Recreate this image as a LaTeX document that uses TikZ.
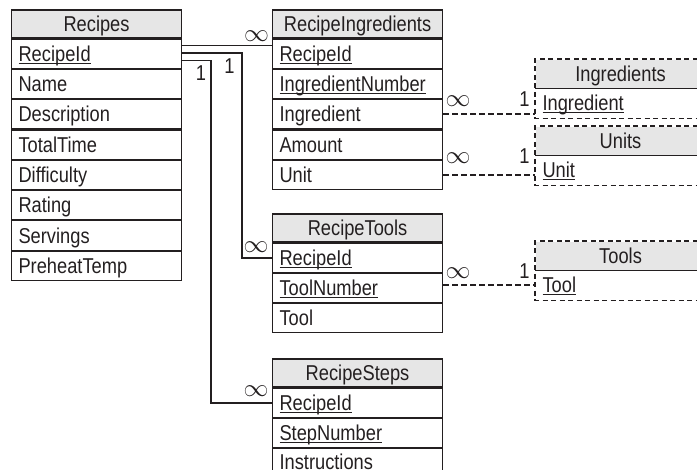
\documentclass[tikz,border=0pt]{standalone}
\usepackage{fontspec}
\setmainfont{Liberation Sans}[FakeStretch=0.85]
\usetikzlibrary{calc}
\definecolor{hdrgray}{HTML}{E6E6E6}
\definecolor{ink}{HTML}{231F20}
\newcommand{\tabfont}{\fontsize{21.5}{24}\selectfont}
\newcommand{\inffont}{\fontsize{23}{25}\selectfont}
\newlength\keyw
\newcommand{\key}[1]{\settowidth{\keyw}{#1}\rlap{\rule[-2.6pt]{\keyw}{1.1pt}}#1}
\tikzset{
  tbl/.style={draw=ink, line width=1.1pt, minimum width=170pt, inner xsep=7pt, inner ysep=0pt,
    anchor=north west, text width=156pt, font=\tabfont, text=ink, text height=16.5pt, text depth=1.5pt},
  hdr/.style={tbl, fill=hdrgray, minimum height=28pt, align=center},
  cell/.style={tbl, minimum height=29.2pt, align=left},
  dhdr/.style={hdr, draw=none},
  dcell/.style={cell, draw=none, minimum height=29pt},
  conn/.style={draw=ink, line width=1.7pt},
  dconn/.style={draw=ink, line width=1.5pt, dash pattern=on 5.5pt off 3.5pt},
  dbox/.style={draw=ink, line width=1.1pt, dash pattern=on 5pt off 3.5pt},
  lbl/.style={font=\tabfont, text=ink, inner sep=0pt},
  infmark/.style={font=\inffont, text=ink, inner sep=0pt}
}
\begin{document}
\begin{tikzpicture}[x=1pt, y=-1pt]
\useasboundingbox (0,0) rectangle (697,470);
\begin{scope}
\clip (0,0) rectangle (697,470);
% Recipes
\node[hdr] (rH) at (11,9.5) {Recipes};
\node[cell] (r1) at (rH.south west) {\key{RecipeId}};
\node[cell] (r2) at (r1.south west) {Name};
\node[cell] (r3) at (r2.south west) {Description};
\node[cell] (r4) at (r3.south west) {TotalTime};
\node[cell] (r5) at (r4.south west) {Difficulty};
\node[cell] (r6) at (r5.south west) {Rating};
\node[cell] (r7) at (r6.south west) {Servings};
\node[cell] (r8) at (r7.south west) {PreheatTemp};
% RecipeIngredients
\node[hdr] (riH) at (272,9.5) {RecipeIngredients};
\node[cell] (ri1) at (riH.south west) {\key{RecipeId}};
\node[cell] (ri2) at (ri1.south west) {\key{IngredientNumber}};
\node[cell] (ri3) at (ri2.south west) {Ingredient};
\node[cell] (ri4) at (ri3.south west) {Amount};
\node[cell] (ri5) at (ri4.south west) {Unit};
% RecipeTools
\node[hdr] (rtH) at (272,213.5) {RecipeTools};
\node[cell] (rt1) at (rtH.south west) {\key{RecipeId}};
\node[cell] (rt2) at (rt1.south west) {\key{ToolNumber}};
\node[cell] (rt3) at (rt2.south west) {Tool};
% RecipeSteps
\node[hdr] (rsH) at (272,358.5) {RecipeSteps};
\node[cell] (rs1) at (rsH.south west) {\key{RecipeId}};
\node[cell] (rs2) at (rs1.south west) {\key{StepNumber}};
\node[cell] (rs3) at (rs2.south west) {\raisebox{1.5pt}{Instructions}};
% Ingredients (dashed)
\node[dhdr] (ingH) at (535,59) {Ingredients};
\node[dcell] (ingR) at (ingH.south west) {\key{Ingredient}};
\draw[dbox] (ingH.north east) -- (ingH.north west) -- (ingR.south west) -- (ingR.south east);
\draw[draw=ink, line width=1.1pt] (ingH.south west) -- (ingH.south east);
% Units (dashed)
\node[dhdr] (unH) at (535,126) {Units};
\node[dcell] (unR) at (unH.south west) {\key{Unit}};
\draw[dbox] (unH.north east) -- (unH.north west) -- (unR.south west) -- (unR.south east);
\draw[draw=ink, line width=1.1pt] (unH.south west) -- (unH.south east);
% Tools (dashed)
\node[dhdr] (toH) at (535,241) {Tools};
\node[dcell] (toR) at (toH.south west) {\key{Tool}};
\draw[dbox] (toH.north east) -- (toH.north west) -- (toR.south west) -- (toR.south east);
\draw[draw=ink, line width=1.1pt] (toH.south west) -- (toH.south east);
% solid connectors
\coordinate (a1) at ($(r1.north east)+(0,7)$);
\coordinate (a2) at ($(r1.north east)+(0,14.5)$);
\coordinate (a3) at ($(r1.north east)+(0,22)$);
\draw[conn] (a1) -- (a1 -| ri1.west);
\draw[conn] (a2) -| ($(rt1.west)+(-30,0)$) -- (rt1.west);
\draw[conn] (a3) -| ($(rs1.west)+(-61,0)$) -- (rs1.west);
\node[lbl] (one1) at (201,73.5) {1};
\node[lbl] (one2) at (229.5,66.5) {1};
\node[infmark] (inf1) at (256.5,36) {$\infty$};
\node[infmark] (inf2) at (256,247) {$\infty$};
\node[infmark] (inf3) at (256,391) {$\infty$};
% dashed connectors
\coordinate (d1) at ($(ri3.east)+(0,-0.5)$);
\draw[dconn] (d1) -- (d1 -| ingR.west);
\draw[dconn] (ri5.east) -- (ri5.east -| unR.west);
\draw[dconn] (toR.west -| rt2.east) -- (toR.west);
\node[infmark] (inf4) at (458,101) {$\infty$};
\node[infmark] (inf5) at (458,158) {$\infty$};
\node[infmark] (inf6) at (458,273) {$\infty$};
\node[lbl] (one3) at (524.5,99) {1};
\node[lbl] (one4) at (524.5,156) {1};
\node[lbl] (one5) at (524.5,271) {1};
\end{scope}
\end{tikzpicture}
\end{document}
